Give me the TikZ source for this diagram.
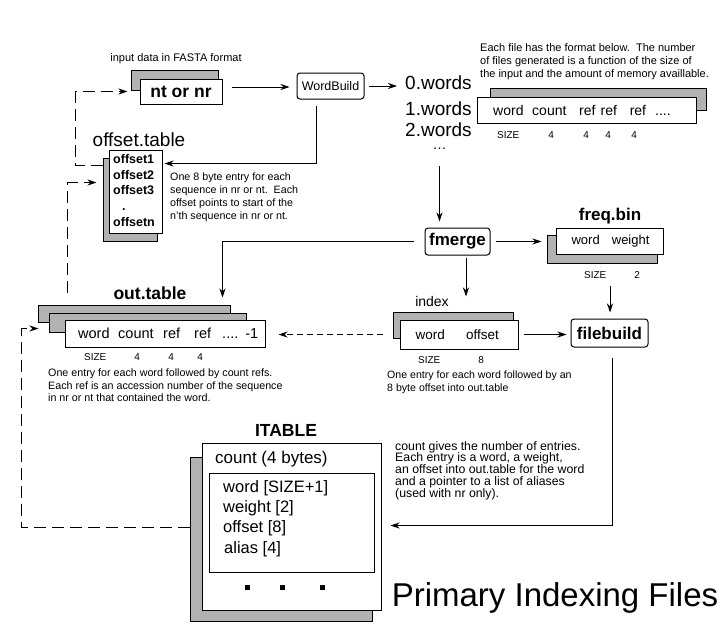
\documentclass[tikz,border=0pt]{standalone}
\usepackage{fontspec}
\setmainfont{Liberation Sans}
\usetikzlibrary{positioning,calc,arrows.meta}

\newcommand{\fsz}[1]{\fontsize{#1}{#1}\selectfont}

\begin{document}
\begin{tikzpicture}[
    x=1pt, y=-1pt,
    back/.style={rectangle, draw, line width=1pt, fill=black!30, inner sep=0pt},
    front/.style={rectangle, draw, line width=1pt, fill=white, inner sep=0pt},
    proc/.style={rectangle, draw, line width=1pt, rounded corners=3pt, fill=white, inner sep=0pt},
    lbl/.style={inner sep=0pt},
    rec/.style={inner sep=0pt, anchor=base west},
    note/.style={inner sep=0pt, anchor=north west, align=left},
    arrow/.style={-{Stealth[length=9pt,width=6pt]}, line width=0.9pt},
    dasharrow/.style={arrow, dash pattern=on 12pt off 6pt},
    dotsq/.style={rectangle, fill=black, inner sep=0pt, minimum size=5pt}
]
\useasboundingbox (0,0) rectangle (727,632);

% input file
\node[lbl, font=\fsz{11}] (inlbl) at (176,59) {input data in FASTA format};
\node[back, minimum width=87pt, minimum height=20pt] (ntback) at (174.5,80) {};
\node[front, minimum width=82pt, minimum height=25pt, font=\bfseries\fsz{17.5}] (ntnr) at (181,91.5) {nt or nr};

\node[proc, minimum width=67pt, minimum height=26pt, font=\fsz{12.5}] (wordbuild) at (330.5,86) {WordBuild};

% word files
\node[rec, font=\fsz{19}] (w0) at (405,89.8) {0.words};
\node[rec, font=\fsz{19}] (w1) at (405,115.8) {1.words};
\node[rec, font=\fsz{19}] (w2) at (405,136.8) {2.words};
\node[lbl, font=\fsz{14}, text height=2pt, text depth=0pt] (wdots) at (439.5,148.5) {\ldots};

\node[note, font=\fontsize{11}{13}\selectfont] (topnote) at (480,43)
  {Each file has the format below.\ \ The number\\of files generated is a function of the size of\\the input and the amount of memory availlable.};
\node[back, minimum width=216pt, minimum height=22pt] (wback) at (598,99) {};
\node[front, minimum width=219pt, minimum height=26pt] (wfront) at (586.5,110) {};
\node[rec, font=\fsz{14}] (wfields) at (493,115.6)
  {word\hspace{8.7pt}count\hspace{12.7pt}ref\hspace{5.2pt}ref\hspace{12.7pt}ref\hspace{9.1pt}....};
\node[rec, font=\fsz{10}] (wsize) at (496.9,138.5)
  {SIZE\hspace{29.1pt}4\hspace{29.4pt}4\hspace{16.4pt}4\hspace{20.4pt}4};

% offset table
\node[lbl, font=\fsz{19}] (offlbl) at (139,140) {offset.table};
\node[back, minimum width=54pt, minimum height=83pt] (offback) at (130,199.5) {};
\node[front, minimum width=53pt, minimum height=83pt] (offfront) at (135.5,191.5) {};
\node[note, font=\bfseries\fontsize{12.5}{15.75}\selectfont] (offlist) at (113,154)
  {offset1\\offset2\\offset3\\\hspace*{9pt}.\\offsetn};
\node[note, font=\fontsize{10.7}{12.7}\selectfont] (offnote) at (170,173)
  {One 8 byte entry for each\\sequence in nr or nt.\ \ Each\\offset points to start of the\\n'th sequence in nr or nt.};

% fmerge and freq.bin
\node[proc, minimum width=65pt, minimum height=27pt, font=\bfseries\fsz{17}] (fmerge) at (457.5,241.5) {fmerge};
\node[lbl, font=\bfseries\fsz{17}] (freqlbl) at (610,216) {freq.bin};
\node[back, minimum width=110pt, minimum height=28pt] (freqback) at (602,249) {};
\node[front, minimum width=107pt, minimum height=26pt] (freqfront) at (609.5,241) {};
\node[rec, font=\fsz{13}] (freqfields) at (571.4,244.3) {word\hspace{12.1pt}weight};
\node[rec, font=\fsz{10}] (freqsize) at (583.9,278.5) {SIZE\hspace{28.1pt}2};

% out.table
\node[lbl, font=\bfseries\fsz{17.5}] (outlbl) at (150,293) {out.table};
\node[back, minimum width=192pt, minimum height=17pt] (outback1) at (134,313.5) {};
\node[back, minimum width=197pt, minimum height=19pt] (outback2) at (147.5,322.5) {};
\node[front, minimum width=200pt, minimum height=27pt] (outfront) at (165,333.5) {};
\node[rec, font=\fsz{14.5}] (outfields) at (78,338)
  {word\hspace{8.6pt}count\hspace{9.5pt}ref\hspace{14.1pt}ref\hspace{11.1pt}....\hspace{6.9pt}-1};
\node[rec, font=\fsz{10}] (outsize) at (83.9,360.5) {SIZE\hspace{28.1pt}4\hspace{28.4pt}4\hspace{23.4pt}4};
\node[note, font=\fontsize{10.7}{12.5}\selectfont] (outnote) at (48,369)
  {One entry for each word followed by count refs.\\Each ref is an accession number of the sequence\\in nr or nt that contained the word.};

% index and filebuild
\node[lbl, font=\fsz{14}] (indexlbl) at (432,301) {index};
\node[back, minimum width=120pt, minimum height=26pt] (indexback) at (453,325) {};
\node[front, minimum width=118pt, minimum height=29pt] (indexfront) at (459,334.5) {};
\node[rec, font=\fsz{13.5}] (indexfields) at (415.4,339.5) {word\hspace{21.3pt}offset};
\node[rec, font=\fsz{10}] (indexsize) at (417.9,363.5) {SIZE\hspace{38.1pt}8};
\node[note, font=\fontsize{10.6}{13}\selectfont] (indexnote) at (387,371)
  {One entry for each word followed by an\\8 byte offset into out.table};
\node[proc, minimum width=77pt, minimum height=28pt, font=\bfseries\fsz{17}] (filebuild) at (609.5,333) {filebuild};

% ITABLE
\node[lbl, font=\bfseries\fsz{17.5}] (itlbl) at (286,430) {ITABLE};
\node[back, minimum width=182pt, minimum height=164pt] (itback) at (281,539) {};
\node[front, minimum width=179pt, minimum height=167pt] (itfront) at (291.5,526.5) {};
\node[rec, font=\fsz{17}] (itcount) at (215,463.5) {count (4 bytes)};
\node[rectangle, draw, line width=1pt, inner sep=0pt, minimum width=165pt, minimum height=99pt] (itinner) at (291.5,522.5) {};
\node[note, font=\fontsize{16.5}{20.3}\selectfont] (itlines) at (223,480)
  {word [SIZE+1]\\weight [2]\\offset [8]\\\hspace*{1pt}alias [4]};
\node[dotsq] (itd1) at (247,587) {};
\node[dotsq] (itd2) at (282,587) {};
\node[dotsq] (itd3) at (322,587) {};
\node[note, font=\fontsize{12.3}{11.8}\selectfont] (itnote) at (395,441)
  {count gives the number of entries.\\Each entry is a word, a weight,\\an offset into out.table for the word\\and a pointer to a list of aliases\\(used with nr only).};
\coordinate (itin) at ($(itfront.north east)+(9,83)$);

\node[lbl, font=\fsz{33}] (title) at (555,598) {Primary Indexing Files};

% connectors
\draw[arrow] ($(ntnr.east)+(9,-4.5)$) -- ($(wordbuild.west)+(-7,1)$);
\draw[arrow, shorten <=4pt, shorten >=8pt] (wordbuild.east) -- (w0.west |- wordbuild.east);
\draw[arrow] ($(wordbuild.south)+(-14.5,6)$) |- ($(offfront.north east)+(2,14)$);
\draw[dasharrow] ($(offback.north west)+(0,8)$) -- ++(-27,0) |- ($(ntback.west)+(-3,11.5)$);
\draw[dasharrow] ($(outback1.north west)+(30,-12)$) |- ($(offback.north west)+(-6,25)$);
\draw[dasharrow] ($(itback.north west)+(0,71)$) -- ++(-168,0) |- ($(outback2.north west)+(-10,16)$);
\draw[arrow, shorten <=16pt, shorten >=6pt] (wdots.south) -- (wdots.south |- fmerge.north);
\draw[arrow] ($(fmerge.west)+(-11,0)$) -| ($(outback1.north east)+(-8,-7)$);
\draw[arrow, shorten <=5pt, shorten >=5pt] (fmerge.east) -- (freqback.west |- fmerge.east);
\draw[arrow] ($(fmerge.south)+(8.5,2)$) -- ($(indexback.north)+(13,-15)$);
\draw[arrow] ($(freqback.south)+(8,22)$) -- ($(filebuild.north)+(0.5,-6)$);
\draw[arrow] ($(indexfront.east)+(5,0)$) -- ($(filebuild.west)+(-4,1.5)$);
\draw[arrow, dash pattern=on 6pt off 4pt] ($(indexback.west)+(-10,9.5)$) -- ($(outfront.east)+(13,1)$);
\draw[arrow] ($(filebuild.south)+(2.5,10)$) |- (itin);
\end{tikzpicture}
\end{document}
